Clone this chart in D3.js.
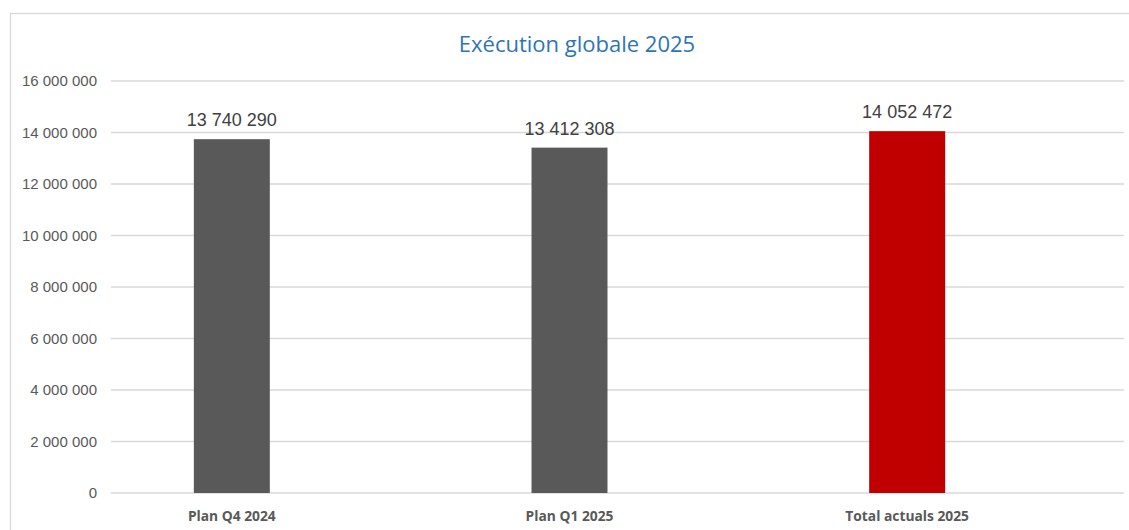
<!DOCTYPE html>
<html lang="fr">
<head>
  <meta charset="utf-8">
  <title>Exécution globale 2025</title>
  <script src="https://d3js.org/d3.v7.min.js"></script>
  <style>
    body { margin: 0; background: #fff; }
    .grid line { stroke: #d9d9d9; stroke-width: 1.3px; }
  </style>
</head>
<body>
<div id="chart"></div>
<script>
  // chart data
  var categories = ["Plan Q4 2024", "Plan Q1 2025", "Total actuals 2025"];
  var values = [13740290, 13412308, 14052472];
  var barColors = ["#595959", "#595959", "#c00000"];
  var yTicks = [0, 2000000, 4000000, 6000000, 8000000, 10000000, 12000000, 14000000, 16000000];

  var W = 1129, H = 530;

  var svg = d3.select("#chart")
    .append("svg")
    .attr("width", W)
    .attr("height", H);

  // outer frame
  svg.append("rect")
    .attr("x", 10.5).attr("y", 13.5)
    .attr("width", W + 10).attr("height", H + 10)
    .attr("fill", "none")
    .attr("stroke", "#d9d9d9")
    .attr("stroke-width", 1.3);

  var y = d3.scaleLinear().domain([0, 16000000]).range([493, 81]);
  var x = d3.scaleBand().domain(categories).range([63, 1076])
    .paddingInner(0.775).paddingOuter(0.3875);

  var fmt = function (v) {
    return d3.format(",")(v).replace(/,/g, " ");
  };

  // gridlines
  svg.append("g")
    .attr("class", "grid")
    .selectAll("line")
    .data(yTicks)
    .enter()
    .append("line")
    .attr("x1", 111).attr("x2", 1124)
    .attr("y1", function (d) { return y(d); })
    .attr("y2", function (d) { return y(d); });

  // y axis labels
  svg.append("g")
    .selectAll("text")
    .data(yTicks)
    .enter()
    .append("text")
    .attr("x", 97)
    .attr("y", function (d) { return y(d); })
    .attr("dy", "0.35em")
    .attr("text-anchor", "end")
    .style("font-family", "'Liberation Sans', Arial, sans-serif")
    .style("font-size", "15px")
    .style("fill", "#595959")
    .text(fmt);

  // bars
  svg.selectAll(".bar")
    .data(values)
    .enter()
    .append("rect")
    .attr("class", "bar")
    .attr("x", function (d, i) { return x(categories[i]); })
    .attr("width", x.bandwidth())
    .attr("y", function (d) { return y(d); })
    .attr("height", function (d) { return y(0) - y(d); })
    .attr("fill", function (d, i) { return barColors[i]; });

  // value labels
  svg.selectAll(".val")
    .data(values)
    .enter()
    .append("text")
    .attr("class", "val")
    .attr("x", function (d, i) { return x(categories[i]) + x.bandwidth() / 2; })
    .attr("y", function (d) { return y(d) - 13; })
    .attr("text-anchor", "middle")
    .style("font-family", "'Liberation Sans', Arial, sans-serif")
    .style("font-size", "18px")
    .style("fill", "#404040")
    .text(fmt);

  // category labels
  svg.selectAll(".cat")
    .data(categories)
    .enter()
    .append("text")
    .attr("class", "cat")
    .attr("x", function (d) { return x(d) + x.bandwidth() / 2; })
    .attr("y", 521)
    .attr("text-anchor", "middle")
    .style("font-family", "'Open Sans', sans-serif")
    .style("font-weight", "bold")
    .style("font-size", "13.8px")
    .style("fill", "#595959")
    .text(function (d) { return d; });

  // title
  svg.append("text")
    .attr("x", 577)
    .attr("y", 52)
    .attr("text-anchor", "middle")
    .style("font-family", "'Open Sans', sans-serif")
    .style("font-size", "22px")
    .style("fill", "#2e75b6")
    .text("Exécution globale 2025");
</script>
</body>
</html>
